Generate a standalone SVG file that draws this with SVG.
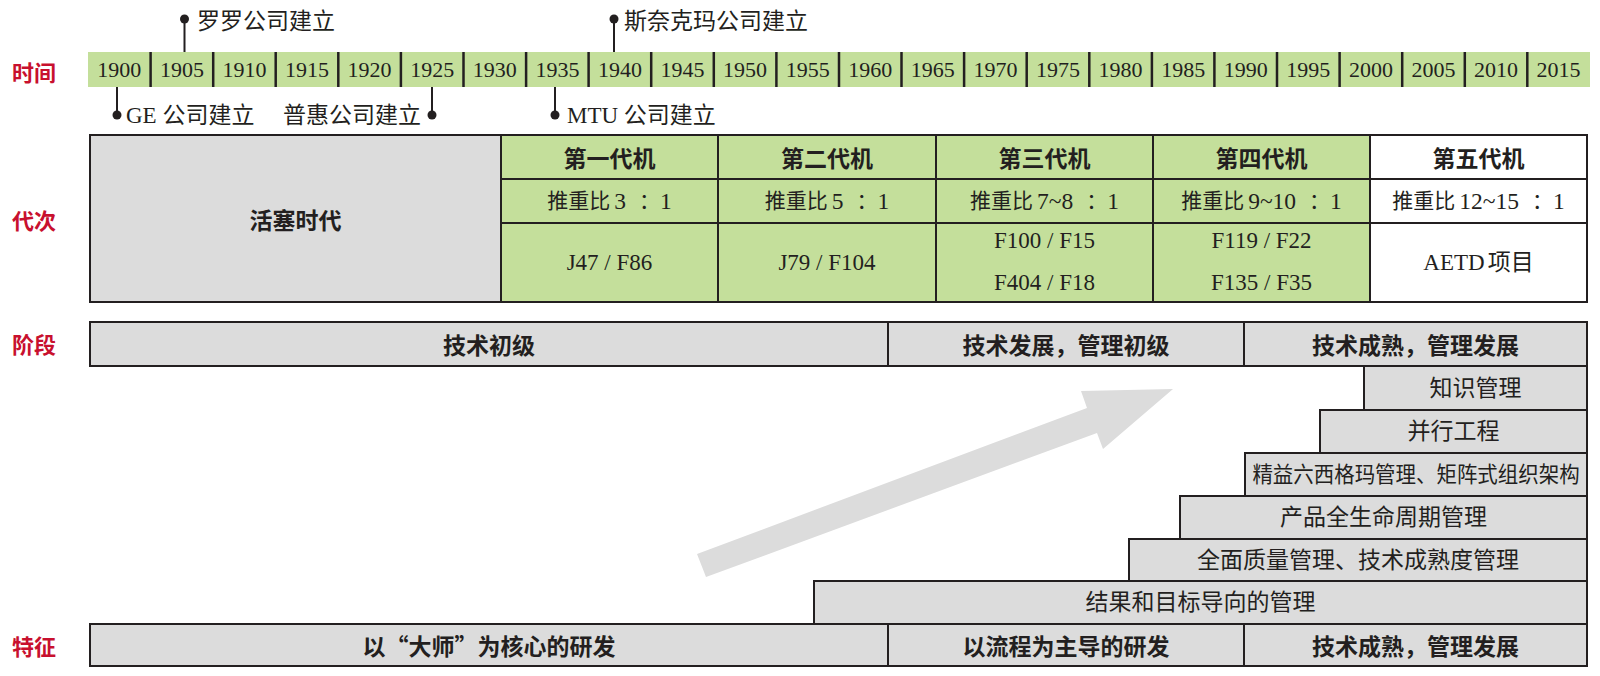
<svg xmlns="http://www.w3.org/2000/svg" width="1600" height="676" viewBox="0 0 1600 676">
<defs>
<style>
.lbl{font-family:"Noto Sans CJK SC",sans-serif;font-weight:700;font-size:22px;fill:#c8102e}
.yr{font-family:"Liberation Serif","Noto Sans CJK SC",serif;font-size:22px;fill:#231f20;text-anchor:middle}
.ev{font-family:"Liberation Serif","Noto Sans CJK SC",serif;font-size:23px;fill:#231f20;dominant-baseline:central}
.hd{font-family:"Noto Sans CJK SC",sans-serif;font-weight:700;font-size:23px;fill:#231f20;text-anchor:middle;dominant-baseline:central}
.tx{font-family:"Liberation Serif","Noto Sans CJK SC",serif;font-size:23px;fill:#231f20;text-anchor:middle;dominant-baseline:central}
.ra{font-family:"Liberation Serif","Noto Sans CJK SC",serif;font-size:21px;fill:#231f20;text-anchor:middle;dominant-baseline:central}
.dg{font-size:23.5px}
.st{font-family:"Liberation Serif","Noto Sans CJK SC",serif;font-size:23px;fill:#231f20;text-anchor:middle;dominant-baseline:central}
.g{fill:#dcdcdc;stroke:#231f20;stroke-width:2}
.gr{fill:#c4df9b;stroke:#231f20;stroke-width:2}
.w{fill:#ffffff;stroke:#231f20;stroke-width:2}
.tick{stroke:#231f20;stroke-width:2.5}
.conn{stroke:#231f20;stroke-width:2;fill:none;marker-end:url(#dot)}
</style>
<marker id="dot" viewBox="0 0 10 10" refX="5" refY="5" markerUnits="userSpaceOnUse" markerWidth="10" markerHeight="10">
<circle cx="5" cy="5" r="4.5" fill="#231f20"/>
</marker>
</defs>
<rect width="1600" height="676" fill="#ffffff"/>

<!-- row labels -->
<g id="row-labels">
<text class="lbl" x="12" y="71" dominant-baseline="central">时间</text>
<text class="lbl" x="12" y="219" dominant-baseline="central">代次</text>
<text class="lbl" x="12" y="343" dominant-baseline="central">阶段</text>
<text class="lbl" x="12" y="645" dominant-baseline="central">特征</text>
</g>

<!-- timeline -->
<g id="timeline">
<rect x="88" y="52" width="1502" height="35" fill="#c4df9b"/>
<g>
<line class="tick" x1="150.6" y1="52" x2="150.6" y2="87"/>
<line class="tick" x1="213.2" y1="52" x2="213.2" y2="87"/>
<line class="tick" x1="275.7" y1="52" x2="275.7" y2="87"/>
<line class="tick" x1="338.3" y1="52" x2="338.3" y2="87"/>
<line class="tick" x1="400.9" y1="52" x2="400.9" y2="87"/>
<line class="tick" x1="463.5" y1="52" x2="463.5" y2="87"/>
<line class="tick" x1="526.1" y1="52" x2="526.1" y2="87"/>
<line class="tick" x1="588.6" y1="52" x2="588.6" y2="87"/>
<line class="tick" x1="651.2" y1="52" x2="651.2" y2="87"/>
<line class="tick" x1="713.8" y1="52" x2="713.8" y2="87"/>
<line class="tick" x1="776.4" y1="52" x2="776.4" y2="87"/>
<line class="tick" x1="839.0" y1="52" x2="839.0" y2="87"/>
<line class="tick" x1="901.5" y1="52" x2="901.5" y2="87"/>
<line class="tick" x1="964.1" y1="52" x2="964.1" y2="87"/>
<line class="tick" x1="1026.7" y1="52" x2="1026.7" y2="87"/>
<line class="tick" x1="1089.3" y1="52" x2="1089.3" y2="87"/>
<line class="tick" x1="1151.9" y1="52" x2="1151.9" y2="87"/>
<line class="tick" x1="1214.4" y1="52" x2="1214.4" y2="87"/>
<line class="tick" x1="1277.0" y1="52" x2="1277.0" y2="87"/>
<line class="tick" x1="1339.6" y1="52" x2="1339.6" y2="87"/>
<line class="tick" x1="1402.2" y1="52" x2="1402.2" y2="87"/>
<line class="tick" x1="1464.8" y1="52" x2="1464.8" y2="87"/>
<line class="tick" x1="1527.3" y1="52" x2="1527.3" y2="87"/>
</g>
<g>
<text class="yr" x="119.3" y="77">1900</text>
<text class="yr" x="181.9" y="77">1905</text>
<text class="yr" x="244.5" y="77">1910</text>
<text class="yr" x="307.0" y="77">1915</text>
<text class="yr" x="369.6" y="77">1920</text>
<text class="yr" x="432.2" y="77">1925</text>
<text class="yr" x="494.8" y="77">1930</text>
<text class="yr" x="557.4" y="77">1935</text>
<text class="yr" x="619.9" y="77">1940</text>
<text class="yr" x="682.5" y="77">1945</text>
<text class="yr" x="745.1" y="77">1950</text>
<text class="yr" x="807.7" y="77">1955</text>
<text class="yr" x="870.3" y="77">1960</text>
<text class="yr" x="932.8" y="77">1965</text>
<text class="yr" x="995.4" y="77">1970</text>
<text class="yr" x="1058.0" y="77">1975</text>
<text class="yr" x="1120.6" y="77">1980</text>
<text class="yr" x="1183.2" y="77">1985</text>
<text class="yr" x="1245.7" y="77">1990</text>
<text class="yr" x="1308.3" y="77">1995</text>
<text class="yr" x="1370.9" y="77">2000</text>
<text class="yr" x="1433.5" y="77">2005</text>
<text class="yr" x="1496.1" y="77">2010</text>
<text class="yr" x="1558.6" y="77">2015</text>
</g>
</g>

<!-- event markers (connectors) -->
<g id="connectors">
<line class="conn" x1="184.5" y1="52" x2="184.5" y2="19"/>
<line class="conn" x1="614" y1="52" x2="614" y2="19"/>
<line class="conn" x1="117" y1="87" x2="117" y2="115"/>
<line class="conn" x1="432" y1="87" x2="432" y2="115"/>
<line class="conn" x1="555" y1="87" x2="555" y2="115"/>
</g>

<g id="event-rr"><text class="ev" x="197" y="21">罗罗公司建立</text></g>
<g id="event-snecma"><text class="ev" x="624" y="21">斯奈克玛公司建立</text></g>
<g id="event-ge"><text class="ev" x="126" y="115">GE 公司建立</text></g>
<g id="event-pw"><text class="ev" x="421" y="115" text-anchor="end">普惠公司建立</text></g>
<g id="event-mtu"><text class="ev" x="567" y="115">MTU 公司建立</text></g>

<!-- generations -->
<g id="piston-era">
<rect class="g" x="90" y="135" width="411" height="167"/>
<text class="hd" x="295.5" y="219">活塞时代</text>
</g>
<g id="gen1">
<rect class="gr" x="501" y="135" width="217" height="44"/>
<rect class="gr" x="501" y="179" width="217" height="44"/>
<rect class="gr" x="501" y="223" width="217" height="79"/>
<text class="hd" x="609.5" y="157">第一代机</text>
<text class="ra" x="609.5" y="201">推重比<tspan class="dg" dx="4">3</tspan><tspan dx="13">：</tspan><tspan class="dg" dx="0">1</tspan></text>
<text class="tx" x="609.5" y="262">J47 / F86</text>
</g>
<g id="gen2">
<rect class="gr" x="718" y="135" width="218" height="44"/>
<rect class="gr" x="718" y="179" width="218" height="44"/>
<rect class="gr" x="718" y="223" width="218" height="79"/>
<text class="hd" x="827" y="157">第二代机</text>
<text class="ra" x="827" y="201">推重比<tspan class="dg" dx="4">5</tspan><tspan dx="13">：</tspan><tspan class="dg" dx="0">1</tspan></text>
<text class="tx" x="827" y="262">J79 / F104</text>
</g>
<g id="gen3">
<rect class="gr" x="936" y="135" width="217" height="44"/>
<rect class="gr" x="936" y="179" width="217" height="44"/>
<rect class="gr" x="936" y="223" width="217" height="79"/>
<text class="hd" x="1044.5" y="157">第三代机</text>
<text class="ra" x="1044.5" y="201">推重比<tspan class="dg" dx="4">7~8</tspan><tspan dx="13">：</tspan><tspan class="dg" dx="0">1</tspan></text>
<text class="tx" x="1044.5" y="240">F100 / F15</text>
<text class="tx" x="1044.5" y="282">F404 / F18</text>
</g>
<g id="gen4">
<rect class="gr" x="1153" y="135" width="217" height="44"/>
<rect class="gr" x="1153" y="179" width="217" height="44"/>
<rect class="gr" x="1153" y="223" width="217" height="79"/>
<text class="hd" x="1261.5" y="157">第四代机</text>
<text class="ra" x="1261.5" y="201">推重比<tspan class="dg" dx="4">9~10</tspan><tspan dx="13">：</tspan><tspan class="dg" dx="0">1</tspan></text>
<text class="tx" x="1261.5" y="240">F119 / F22</text>
<text class="tx" x="1261.5" y="282">F135 / F35</text>
</g>
<g id="gen5">
<rect class="w" x="1370" y="135" width="217" height="44"/>
<rect class="w" x="1370" y="179" width="217" height="44"/>
<rect class="w" x="1370" y="223" width="217" height="79"/>
<text class="hd" x="1478.5" y="157">第五代机</text>
<text class="ra" x="1478.5" y="201">推重比<tspan class="dg" dx="4">12~15</tspan><tspan dx="13">：</tspan><tspan class="dg" dx="0">1</tspan></text>
<text class="tx" x="1478.5" y="262">AETD<tspan dx="3">项目</tspan></text>
</g>

<!-- stages -->
<g id="stage-1">
<rect class="g" x="90" y="322" width="798" height="44"/>
<text class="hd" x="489" y="344">技术初级</text>
</g>
<g id="stage-2">
<rect class="g" x="888" y="322" width="356" height="44"/>
<text class="hd" x="1066" y="344">技术发展，管理初级</text>
</g>
<g id="stage-3">
<rect class="g" x="1244" y="322" width="343" height="44"/>
<text class="hd" x="1415.5" y="344">技术成熟，管理发展</text>
</g>

<!-- trend arrow -->
<g id="trend-arrow">
<polygon points="697,554 1087,408 1081,391 1173,389 1103,449 1097,433 706,577" fill="#dcdcdc"/>
</g>

<!-- management practices (stairs) -->
<g id="practice-knowledge">
<rect class="g" x="1364" y="366" width="223" height="44"/>
<text class="st" x="1475.5" y="388">知识管理</text>
</g>
<g id="practice-concurrent">
<rect class="g" x="1320" y="410" width="267" height="43"/>
<text class="st" x="1453.5" y="431.5">并行工程</text>
</g>
<g id="practice-lean">
<rect class="g" x="1245" y="453" width="342" height="43"/>
<text class="st" transform="translate(1416 474.5) scale(0.93 1)" x="0" y="0" style="font-size:22px">精益六西格玛管理、矩阵式组织架构</text>
</g>
<g id="practice-plm">
<rect class="g" x="1180" y="496" width="407" height="43"/>
<text class="st" x="1383.5" y="517.5">产品全生命周期管理</text>
</g>
<g id="practice-tqm">
<rect class="g" x="1129" y="539" width="458" height="42"/>
<text class="st" x="1358" y="560">全面质量管理、技术成熟度管理</text>
</g>
<g id="practice-mbo">
<rect class="g" x="814" y="581" width="773" height="43"/>
<text class="st" x="1200.5" y="602.5">结果和目标导向的管理</text>
</g>

<!-- features -->
<g id="feature-1">
<rect class="g" x="90" y="624" width="798" height="42"/>
<text class="hd" x="489" y="645">以“大师”为核心的研发</text>
</g>
<g id="feature-2">
<rect class="g" x="888" y="624" width="356" height="42"/>
<text class="hd" x="1066" y="645">以流程为主导的研发</text>
</g>
<g id="feature-3">
<rect class="g" x="1244" y="624" width="343" height="42"/>
<text class="hd" x="1415.5" y="645">技术成熟，管理发展</text>
</g>
</svg>
